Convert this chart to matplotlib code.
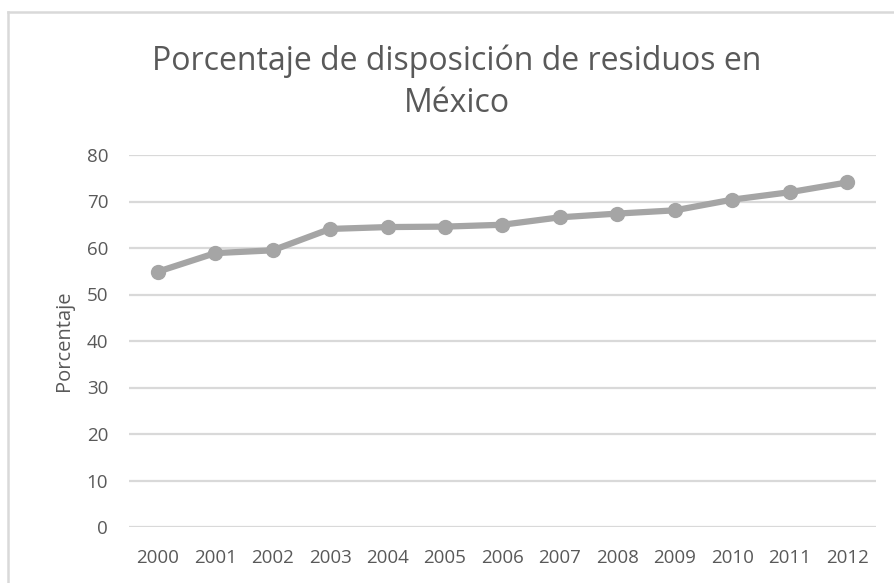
import matplotlib
matplotlib.use("Agg")
import matplotlib.pyplot as plt
from matplotlib.lines import Line2D

years = ["2000", "2001", "2002", "2003", "2004", "2005", "2006",
         "2007", "2008", "2009", "2010", "2011", "2012"]
values = [54.9, 58.9, 59.5, 64.1, 64.5, 64.6, 65.0,
          66.6, 67.4, 68.1, 70.4, 72.0, 74.1]
yticks = [0, 10, 20, 30, 40, 50, 60, 70, 80]

title = "Porcentaje de disposición de residuos en\nMéxico"
ylabel = "Porcentaje"

plt.rcParams['font.family'] = ['Open Sans', 'DejaVu Sans']
text_color = "#595959"
grid_color = "#D9D9D9"

fig = plt.figure(figsize=(8.94, 5.83), dpi=100)
W, H = 894, 583
ax = fig.add_axes([129 / W, 1 - 527 / H, (876 - 129) / W, (527 - 155) / H])

x = list(range(len(years)))
ax.plot(x, values, color="#A5A5A5", linewidth=4.5, marker="o",
        markersize=10, solid_capstyle="round", zorder=3)

ax.set_xlim(-0.5, len(years) - 0.5)
ax.set_ylim(0, 80)
ax.set_yticks(yticks)
ax.set_xticks(x)
ax.set_xticklabels(years)
ax.yaxis.grid(True, color=grid_color, linewidth=1.6)
ax.set_axisbelow(True)
for s in ax.spines.values():
    s.set_visible(False)
ax.tick_params(axis="both", length=0, labelsize=13.5, colors=text_color)
ax.tick_params(axis="x", pad=16)
ax.tick_params(axis="y", pad=15)

ax.set_ylabel(ylabel, fontsize=14.5, color=text_color, labelpad=9)

fig.text(457 / W, 1 - 82 / H, title, ha="center", va="center",
         fontsize=23, color=text_color, linespacing=1.38)

# chart border (top and left visible)
fig.add_artist(Line2D([8 / W, 8 / W], [0, 1 - 12 / H], transform=fig.transFigure,
                      color=grid_color, linewidth=1.8))
fig.add_artist(Line2D([8 / W, 1], [1 - 12 / H, 1 - 12 / H], transform=fig.transFigure,
                      color=grid_color, linewidth=1.8))

fig.savefig("out.png", dpi=100, facecolor="white")
